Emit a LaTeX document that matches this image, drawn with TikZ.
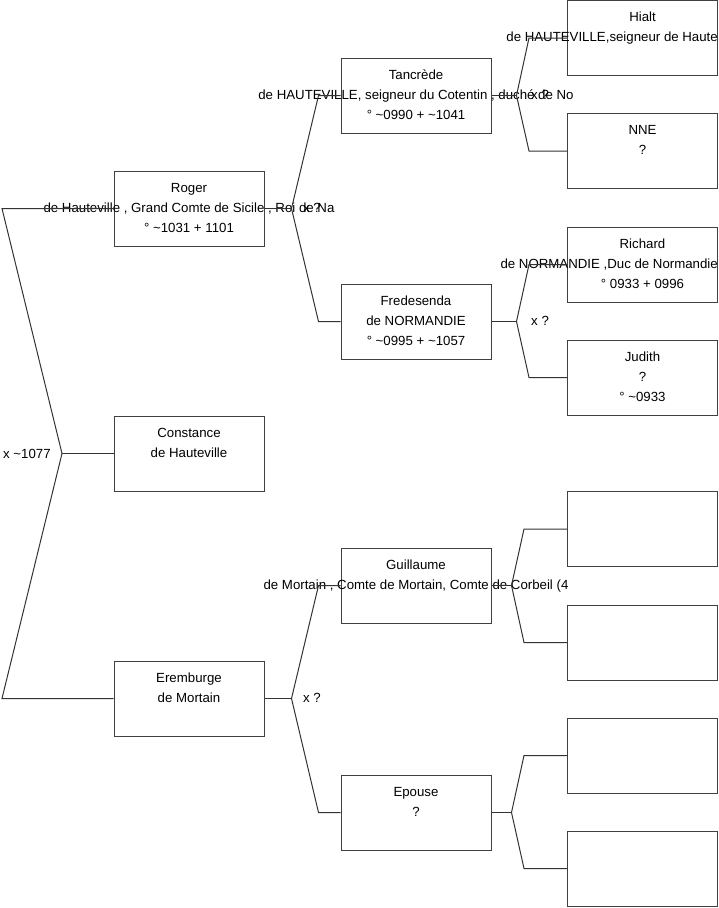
\documentclass[tikz,border=0pt]{standalone}
\usepackage{fontspec}
\setmainfont{Liberation Sans}
\definecolor{boxc}{HTML}{404040}
\definecolor{linec}{HTML}{333333}
\newcommand\boxlines[2]{%
  \foreach \mytext [count=\i] in {#2}{%
    \node[txt] (#1-t\i) at ([yshift={-21.5pt-20pt*(\i-1)}]#1.north) {\mytext};}}
\begin{document}
\begin{tikzpicture}[x=1pt,y=-1pt,
  box/.style={draw=boxc, line width=1pt, minimum width=150pt, minimum height=75pt, inner sep=0pt},
  txt/.style={font=\fontsize{13.25}{15}\selectfont, inner sep=0pt, anchor=base, text=black},
  lbl/.style={font=\fontsize{13.25}{15}\selectfont, inner sep=0pt, anchor=base west, text=black},
  conn/.style={draw=linec, line width=1pt}]
\useasboundingbox (0,0) rectangle (719,908);
% boxes
\node[box] (roger) at (189,208.5) {};
\node[box] (constance) at (189,453.5) {};
\node[box] (eremburge) at (189,698.5) {};
\node[box] (tancrede) at (416,95.5) {};
\node[box] (fredesenda) at (416,321.5) {};
\node[box] (guillaume) at (416,585.5) {};
\node[box] (epouse) at (416,812.5) {};
\node[box] (hialt) at (642.5,38) {};
\node[box] (nne) at (642.5,151) {};
\node[box] (richard) at (642.5,264.5) {};
\node[box] (judith) at (642.5,377.5) {};
\node[box] (e1) at (642.5,529) {};
\node[box] (e2) at (642.5,642.5) {};
\node[box] (e3) at (642.5,755.5) {};
\node[box] (e4) at (642.5,868.5) {};
% texts
\boxlines{roger}{Roger,{de Hauteville , Grand Comte de Sicile , Roi de Na},{° \textasciitilde1031 + 1101}}
\boxlines{constance}{Constance,de Hauteville}
\boxlines{eremburge}{Eremburge,de Mortain}
\boxlines{tancrede}{Tancrède,{de HAUTEVILLE, seigneur du Cotentin , duché de No},{° \textasciitilde0990 + \textasciitilde1041}}
\boxlines{fredesenda}{Fredesenda,de NORMANDIE,{° \textasciitilde0995 + \textasciitilde1057}}
\boxlines{guillaume}{Guillaume,{de Mortain , Comte de Mortain, Comte de Corbeil (4}}
\boxlines{epouse}{Epouse,?}
\boxlines{hialt}{Hialt}
\node[txt, anchor=base east] (hialt-t2) at (718,41) {de HAUTEVILLE,seigneur de Haute};
\boxlines{nne}{NNE,?}
\node[txt] (richard-t1) at ([yshift=-21.5pt]richard.north) {Richard};
\node[txt, anchor=base east] (richard-t2) at (718,268.5) {de NORMANDIE ,Duc de Normandie};
\node[txt] (richard-t3) at ([yshift=-61.5pt]richard.north) {° 0933 + 0996};
\boxlines{judith}{Judith,?,{° \textasciitilde0933}}
% marriage labels
\node[lbl] (m0) at (3,458) {x \textasciitilde1077};
\node[lbl] (m1) at (303,212.5) {x ?};
\node[lbl] (m2) at (303,702.5) {x ?};
\node[lbl] (m3) at (531,99.5) {x ?};
\node[lbl] (m4) at (531,325.5) {x ?};
% connectors
\coordinate (lx) at (2,0);
\coordinate (v0) at (62,453.5);
\draw[conn] (roger.west) -- (roger.west -| lx) -- (v0) -- (eremburge.west -| lx) -- (eremburge.west);
\draw[conn] (v0) -- (constance.west);
\foreach \p/\a/\b/\vx/\ex in {roger/tancrede/fredesenda/27/22, eremburge/guillaume/epouse/27/22,
  tancrede/hialt/nne/25/38, fredesenda/richard/judith/25/38,
  guillaume/e1/e2/20/43, epouse/e3/e4/20/43}{
  \coordinate (\p-v) at ([xshift=\vx pt]\p.east);
  \draw[conn] (\p.east) -- (\p-v);
  \draw[conn] (\a.west) -- ([xshift=-\ex pt]\a.west) -- (\p-v) -- ([xshift=-\ex pt]\b.west) -- (\b.west);
}
\end{tikzpicture}
\end{document}
